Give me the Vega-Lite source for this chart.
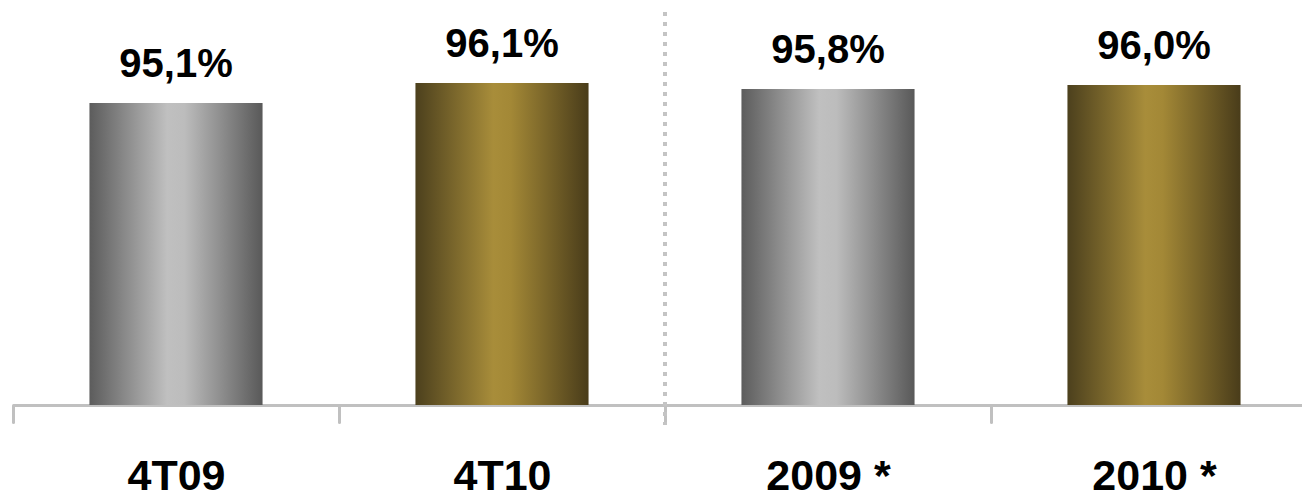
{
  "$schema": "https://vega.github.io/schema/vega-lite/v6.json",
  "width": 1289,
  "height": 405,
  "autosize": {"type": "none"},
  "padding": {"left": 13, "top": 0, "right": 0, "bottom": 88},
  "background": "white",
  "config": {
    "view": {"stroke": null},
    "locale": {
      "number": {"decimal": ",", "thousands": ".", "grouping": [3], "currency": ["", ""]}
    }
  },
  "resolve": {"scale": {"y": "shared"}},
  "layer": [
    {
      "data": {
        "values": [
          {"periodo": "4T09", "ano": 2009, "valor": 0.951},
          {"periodo": "4T10", "ano": 2010, "valor": 0.961},
          {"periodo": "2009 *", "ano": 2009, "valor": 0.958},
          {"periodo": "2010 *", "ano": 2010, "valor": 0.960}
        ]
      },
      "encoding": {
        "x": {
          "field": "periodo",
          "type": "nominal",
          "sort": null,
          "scale": {
            "domain": ["4T09", "4T10", "2009 *", "2010 *"],
            "range": [0, 1304],
            "paddingInner": 0,
            "paddingOuter": 0
          },
          "axis": {
            "title": null,
            "labelAngle": 0,
            "domainColor": "#c0c0c0",
            "domainWidth": 3,
            "tickColor": "#c0c0c0",
            "tickWidth": 3,
            "tickSize": 17,
            "tickCap": "round",
            "tickBand": "extent",
            "labelFont": "Liberation Sans",
            "labelFontWeight": "bold",
            "labelFontSize": 43,
            "labelColor": "#000000",
            "labelBaseline": "alphabetic",
            "labelPadding": 67
          }
        },
        "y": {
          "field": "valor",
          "type": "quantitative",
          "scale": {"domain": [0.8, 1.0025], "zero": false, "nice": false},
          "axis": null
        }
      },
      "layer": [
        {
          "transform": [{"filter": "datum.ano === 2009"}],
          "mark": {
            "type": "bar",
            "width": {"band": 0.531},
            "fill": {
              "gradient": "linear",
              "x1": 0, "y1": 0, "x2": 1, "y2": 0,
              "stops": [
                {"offset": 0, "color": "#5c5c5c"},
                {"offset": 0.45, "color": "#c0c0c0"},
                {"offset": 0.55, "color": "#bcbcbc"},
                {"offset": 1, "color": "#595959"}
              ]
            }
          },
          "encoding": {"y2": {"datum": 0.8}}
        },
        {
          "transform": [{"filter": "datum.ano === 2010"}],
          "mark": {
            "type": "bar",
            "width": {"band": 0.531},
            "fill": {
              "gradient": "linear",
              "x1": 0, "y1": 0, "x2": 1, "y2": 0,
              "stops": [
                {"offset": 0, "color": "#4c401d"},
                {"offset": 0.45, "color": "#a88d3a"},
                {"offset": 0.55, "color": "#a38836"},
                {"offset": 1, "color": "#493c1a"}
              ]
            }
          },
          "encoding": {"y2": {"datum": 0.8}}
        },
        {
          "mark": {
            "type": "text",
            "baseline": "alphabetic",
            "align": "center",
            "dy": -26,
            "font": "Liberation Sans",
            "fontWeight": "bold",
            "fontSize": 40,
            "fill": "#000000"
          },
          "encoding": {
            "text": {"field": "valor", "type": "quantitative", "format": ".1%"}
          }
        }
      ]
    },
    {
      "data": {"values": [{"divisor": "2009 *", "inicio": 0.9965, "fim": 0.79}]},
      "mark": {
        "type": "rule",
        "stroke": "#c4c4c4",
        "strokeWidth": 4,
        "strokeDash": [4, 6]
      },
      "encoding": {
        "x": {"field": "divisor", "type": "nominal", "bandPosition": 0},
        "y": {
          "field": "inicio",
          "type": "quantitative",
          "scale": {"domain": [0.8, 1.0025], "zero": false, "nice": false}
        },
        "y2": {"field": "fim"}
      }
    }
  ]
}
